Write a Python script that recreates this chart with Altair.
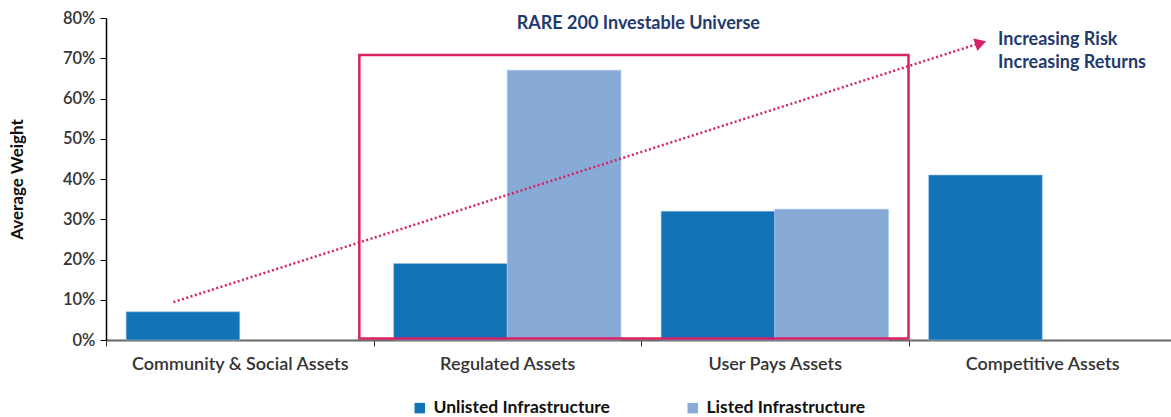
import math
import altair as alt
import pandas as pd

# ---- data -------------------------------------------------------------
categories = ["Community & Social Assets", "Regulated Assets",
              "User Pays Assets", "Competitive Assets"]
series = ["Unlisted Infrastructure", "Listed Infrastructure"]
unlisted = [0.07, 0.19, 0.32, 0.41]
listed = [None, 0.67, 0.325, None]

# annotation geometry, x in category units (0-4), y in weight
box_x = [0.947, 3.0]
box_y = [0.004, 0.708]
arrow_x = [0.252, 3.27]
arrow_y = [0.094, 0.738]
box_label = "RARE 200 Investable Universe"
box_label_pos = [1.99, 0.785]
arrow_labels = ["Increasing Risk", "Increasing Returns"]
arrow_label_x = 3.335
arrow_label_y = [0.745, 0.688]

# ---- styling ----------------------------------------------------------
DARK = "#1273B7"
LIGHT = "#87ABD6"
PINK = "#D62264"
NAVY = "#1F3A6E"
FONT = "Lato"
W, H = 1065, 322
X_RANGE = [0, 1070]

rows = []
for cat, u, l in zip(categories, unlisted, listed):
    if u is not None:
        rows.append({"category": cat, "series": series[0], "weight": u})
    if l is not None:
        rows.append({"category": cat, "series": series[1], "weight": l})
bars_df = pd.DataFrame(rows)

y_scale = alt.Scale(domain=[0, 0.8], nice=False)

bars = alt.Chart(bars_df).mark_bar(stroke="#9FC4E8", strokeWidth=0.6).encode(
    x=alt.X("category:N", sort=categories, title=None,
            scale=alt.Scale(paddingInner=0, paddingOuter=0, range=X_RANGE),
            axis=alt.Axis(labelAngle=0, labelFontSize=18, labelColor="#333333",
                          labelFontWeight=600, labelPadding=9, labelLimit=400,
                          tickBand="extent", tickSize=6, tickColor="#333333",
                          domainColor="#666666", domainWidth=2, grid=False)),
    xOffset=alt.XOffset("series:N", sort=series,
                        scale=alt.Scale(paddingInner=0, paddingOuter=0.177)),
    y=alt.Y("weight:Q", scale=y_scale, title="Average Weight",
            axis=alt.Axis(format=".0%", values=[i / 10 for i in range(9)],
                          labelFontSize=16.5, labelFontWeight=600,
                          labelColor="#333333", domainColor="#000000",
                          domainWidth=1.5, tickColor="#000000", tickSize=6,
                          labelPadding=5, grid=False, titleFontSize=17,
                          titleFontWeight="bold", titleColor="#111111",
                          titlePadding=36)),
    color=alt.Color("series:N", sort=series,
                    scale=alt.Scale(domain=series, range=[DARK, LIGHT]),
                    legend=alt.Legend(title=None, orient="none", legendX=305,
                                      legendY=381, direction="horizontal",
                                      symbolType="square", symbolSize=110,
                                      symbolStrokeWidth=0, labelFontSize=17.5,
                                      labelFontWeight="bold", labelColor="#111111",
                                      columnPadding=74, labelOffset=5,
                                      labelLimit=400)),
)

ax = alt.Scale(domain=[0, 4], range=X_RANGE, nice=False, zero=False)

box_df = pd.DataFrame({"x": [box_x[0]], "x2": [box_x[1]],
                       "y": [box_y[0]], "y2": [box_y[1]]})
box = alt.Chart(box_df).mark_rect(fillOpacity=0, stroke=PINK, strokeWidth=2.5).encode(
    x=alt.X("x:Q", scale=ax, axis=None), x2="x2:Q",
    y=alt.Y("y:Q", scale=y_scale), y2="y2:Q",
)

arrow_df = pd.DataFrame({"x": arrow_x, "y": arrow_y, "o": [0, 1]})
arrow_line = alt.Chart(arrow_df).mark_line(
    color=PINK, strokeWidth=2.5, strokeDash=[2, 2.5]).encode(
    x=alt.X("x:Q", scale=ax, axis=None),
    y=alt.Y("y:Q", scale=y_scale), order="o:O",
)

# rotate the arrowhead to follow the line direction on screen
dx = (arrow_x[1] - arrow_x[0]) * (X_RANGE[1] / 4)
dy = (arrow_y[1] - arrow_y[0]) * (H / 0.8)
head_angle = 360 - math.degrees(math.atan2(dy, dx))

head = alt.Chart(arrow_df.tail(1)).mark_point(
    shape="triangle-right", filled=True, color=PINK, opacity=1,
    size=170, angle=head_angle).encode(
    x=alt.X("x:Q", scale=ax, axis=None),
    y=alt.Y("y:Q", scale=y_scale),
)

title_df = pd.DataFrame({"x": [box_label_pos[0]], "y": [box_label_pos[1]],
                         "t": [box_label]})
box_text = alt.Chart(title_df).mark_text(
    font=FONT, fontSize=18, fontWeight="bold", color=NAVY).encode(
    x=alt.X("x:Q", scale=ax, axis=None),
    y=alt.Y("y:Q", scale=y_scale), text="t:N",
)

note_df = pd.DataFrame({"x": [arrow_label_x] * len(arrow_labels),
                        "y": arrow_label_y, "t": arrow_labels})
note_text = alt.Chart(note_df).mark_text(
    font=FONT, fontSize=18, fontWeight="bold", color=NAVY, align="left").encode(
    x=alt.X("x:Q", scale=ax, axis=None),
    y=alt.Y("y:Q", scale=y_scale), text="t:N",
)

chart = alt.layer(bars, box, arrow_line, head, box_text, note_text).resolve_scale(
    x="independent"
).properties(
    width=W, height=H,
    autosize=alt.AutoSizeParams(type="none"),
    padding={"left": 106, "top": 18, "right": 0, "bottom": 77},
).configure(font=FONT).configure_view(stroke=None)

chart.save("out.html", embed_options={"renderer": "svg", "actions": False})
